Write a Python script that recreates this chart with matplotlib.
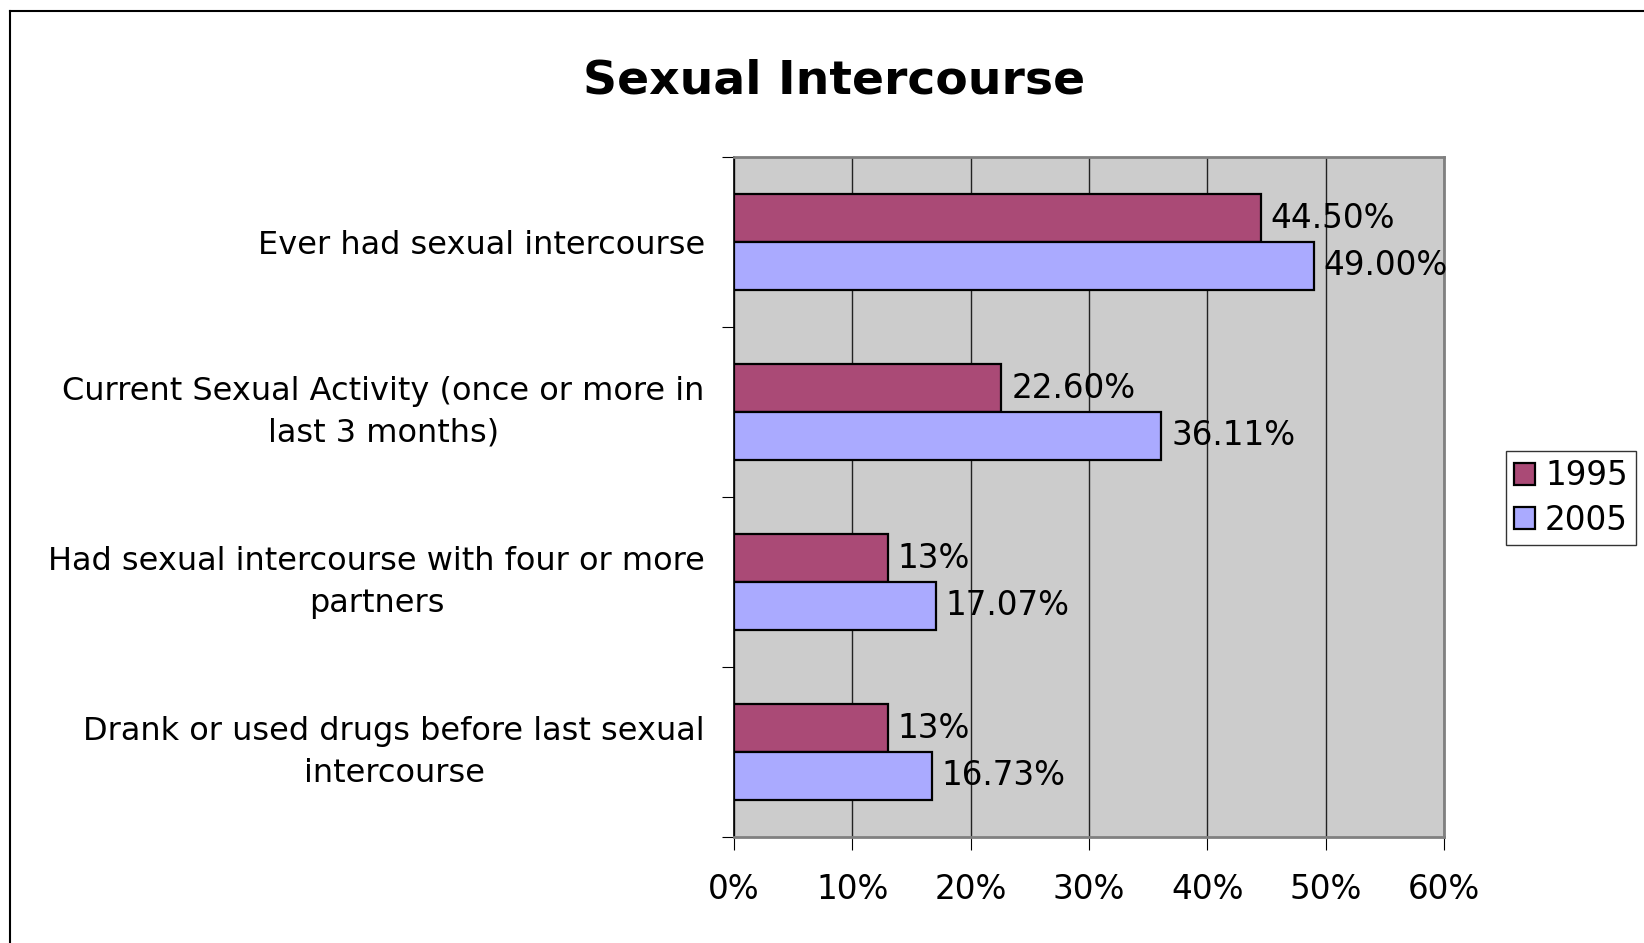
import matplotlib.pyplot as plt
import matplotlib.lines as mlines
import matplotlib.transforms as mtransforms
import numpy as np

categories = ["Ever had sexual intercourse",
              "Current Sexual Activity (once or more in\nlast 3 months)",
              "Had sexual intercourse with four or more\npartners",
              "Drank or used drugs before last sexual\nintercourse"]
vals_1995 = [44.5, 22.6, 13.0, 13.0]
vals_2005 = [49.0, 36.11, 17.07, 16.73]
labels_1995 = ["44.50%", "22.60%", "13%", "13%"]
labels_2005 = ["49.00%", "36.11%", "17.07%", "16.73%"]
xticks = [0, 10, 20, 30, 40, 50, 60]

c95 = '#AA4A76'
c05 = '#AAAAFF'
fs = 23.5

fig = plt.figure(figsize=(16.44, 9.43), dpi=100)
ax = fig.add_axes([734 / 1644, 1 - 837 / 943, 710 / 1644, 680 / 943])
ax.set_facecolor('#CCCCCC')

y = np.arange(len(categories))
h = 0.28
b1 = ax.barh(y - h / 2, vals_1995, height=h, color=c95, edgecolor='black', linewidth=1.6, label='1995', zorder=3)
b2 = ax.barh(y + h / 2, vals_2005, height=h, color=c05, edgecolor='black', linewidth=1.6, label='2005', zorder=3)
ax.bar_label(b1, labels=labels_1995, padding=7, fontsize=fs)
ax.bar_label(b2, labels=labels_2005, padding=7, fontsize=fs)

ax.set_xlim(0, 60)
ax.set_ylim(len(categories) - 0.5, -0.5)
ax.set_xticks(xticks)
ax.set_xticklabels([f"{t}%" for t in xticks], fontsize=fs)
ax.tick_params(axis='x', length=9, pad=17, color='black')
ax.xaxis.grid(True, color='#222222', linewidth=1.0, zorder=1)
ax.set_axisbelow(True)

ax.set_yticks(np.arange(len(categories) + 1) - 0.5)
ax.set_yticklabels([])
ax.tick_params(axis='y', which='major', length=9, color='black')
ax.set_yticks(y, minor=True)
ylabels = ax.set_yticklabels(categories, minor=True, fontsize=23, multialignment='center', linespacing=1.45)
ax.tick_params(axis='y', which='minor', length=0, pad=21)
# two-line labels sit a bit low, nudge them up
for t in ylabels:
    if '\n' in t.get_text():
        t.set_transform(t.get_transform() + mtransforms.ScaledTranslation(0, 6 / 72, fig.dpi_scale_trans))

ax.spines['left'].set_color('black')
ax.spines['left'].set_linewidth(1.2)
for s in ['right', 'bottom', 'top']:
    ax.spines[s].set_color('#808080')
    ax.spines[s].set_linewidth(2)

fig.text(834 / 1644, 1 - 81 / 943, "Sexual Intercourse", fontsize=34, fontweight='bold',
         ha='center', va='center')

leg = fig.legend(handles=[b1, b2], loc='center', bbox_to_anchor=(1571 / 1644, 1 - 498 / 943),
                 fontsize=fs, frameon=True, fancybox=False, edgecolor='black',
                 handlelength=0.65, handleheight=0.65, handletextpad=0.3,
                 borderpad=0.25, borderaxespad=0, labelspacing=0.35)
leg.get_frame().set_linewidth(1.0)

# outer chart border (clipped at right and bottom)
fig.add_artist(mlines.Line2D([9.5 / 1644, 9.5 / 1644], [0, 1 - 10.5 / 943], color='black', linewidth=1.5))
fig.add_artist(mlines.Line2D([9.5 / 1644, 1], [1 - 10.5 / 943, 1 - 10.5 / 943], color='black', linewidth=1.5))

fig.savefig('out.png', dpi=100)
